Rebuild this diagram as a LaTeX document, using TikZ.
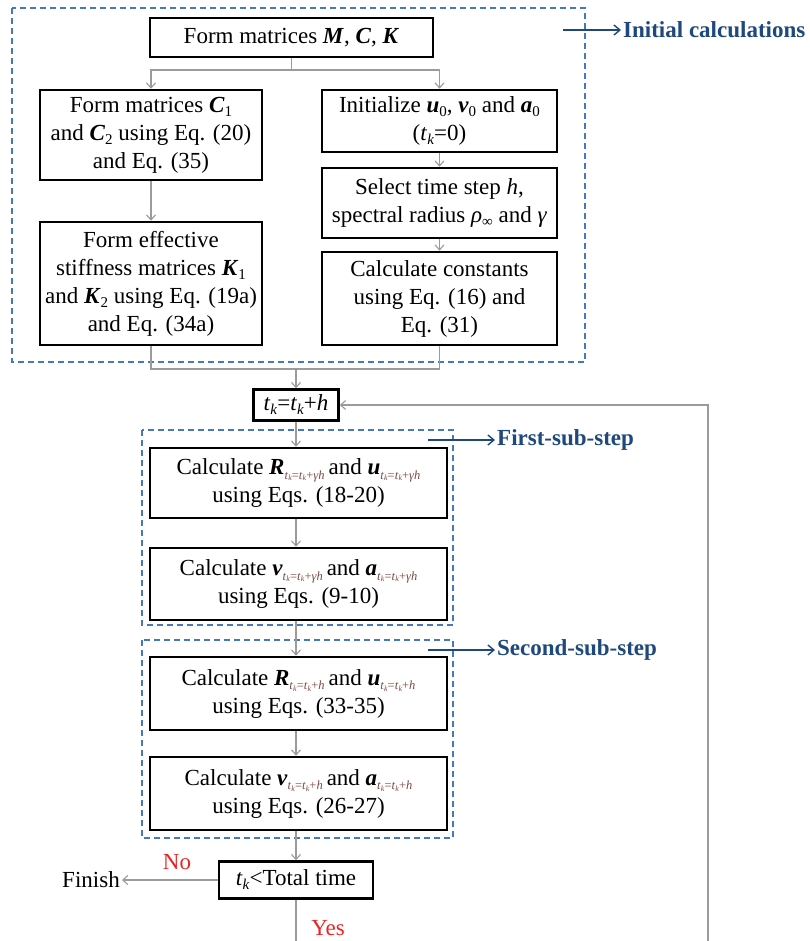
\documentclass[tikz,border=0pt]{standalone}
\usepackage{fontspec}
\setmainfont{Liberation Serif}
\usetikzlibrary{arrows.meta}
\definecolor{navy}{RGB}{31,73,125}
\definecolor{dashblue}{RGB}{70,120,190}
\definecolor{subbrown}{RGB}{125,75,65}
\definecolor{arrgray}{RGB}{155,155,155}
\definecolor{nored}{RGB}{235,35,35}
\newcommand\myBI[1]{\textbf{\textit{#1}}}
\newcommand\myLo[1]{\raisebox{-4pt}{\fontsize{15}{15}\selectfont #1}}
\newcommand\myTk{\textit{t}\myLo{\textit{k}}}
\newcommand\mySs[1]{\raisebox{-4.5pt}{\fontsize{12.5}{12.5}\selectfont\color{subbrown}#1}}
\newcommand\mySk{\textit{t}\raisebox{-1.5pt}{\fontsize{8}{8}\selectfont\textit{k}}}
\newcommand\myGh{\mySs{\mySk=\mySk+\textit{γh}}\hspace{4pt}}
\newcommand\myHh{\mySs{\mySk=\mySk+\textit{h}}\hspace{4pt}}
\begin{document}
\begin{tikzpicture}[x=1pt,y=-1pt,
  box/.style={draw, line width=2.6pt, align=center, inner sep=2pt,
    font=\fontsize{23}{28}\selectfont},
  gline/.style={draw=arrgray, line width=1.2pt},
  garrow/.style={gline, -{Straight Barb[length=5pt,width=9pt,line width=1.1pt]}},
  dbox/.style={draw=dashblue, line width=1.5pt, dash pattern=on 6pt off 4pt},
  narrow/.style={draw=navy, line width=1.5pt, -{Straight Barb[length=6pt,width=10pt,line width=1.4pt]}},
  lab/.style={text=navy, font=\fontsize{23}{28}\selectfont\bfseries, inner sep=2pt},
  plain/.style={font=\fontsize{23}{28}\selectfont, inner sep=2pt}]
\useasboundingbox (0,0) rectangle (809,941);
\fill[white] (0,0) rectangle (809,941);

% dashed group boxes
\draw[dbox] (12,8) rectangle (585,362);
\draw[dbox] (142,430) rectangle (453,625);
\draw[dbox] (142,640) rectangle (453,838);

% nodes
\node[box, minimum width=283pt, minimum height=39pt] (A) at (291.5,37.5) {Form matrices \myBI{M}, \myBI{C}, \myBI{K}};
\node[box, minimum width=222pt, minimum height=90pt] (B) at (151,135) {Form matrices \myBI{C}\myLo{1}\\and \myBI{C}\myLo{2} using Eq. (20)\\and Eq. (35)};
\node[box, minimum width=222pt, minimum height=123pt] (C) at (151,283.5) {Form effective\\stiffness matrices \myBI{K}\myLo{1}\\and \myBI{K}\myLo{2} using Eq. (19a)\\and Eq. (34a)};
\node[box, minimum width=235pt, minimum height=62pt] (D) at (439.5,121) {Initialize \myBI{u}\myLo{0}, \myBI{v}\myLo{0} and \myBI{a}\myLo{0}\\(\myTk=0)};
\node[box, minimum width=235pt, minimum height=70pt] (E) at (439.5,203) {Select time step \textit{h},\\spectral radius \textit{ρ}\myLo{∞} and \textit{γ}};
\node[box, minimum width=235pt, minimum height=93pt] (F) at (439.5,298.5) {Calculate constants\\using Eq. (16) and\\Eq. (31)};
\node[box, minimum width=85pt, minimum height=31pt] (tk) at (296,405) {\myTk=\myTk+\textit{h}};
\node[box, minimum width=297pt, minimum height=70pt] (G) at (298.5,483) {Calculate \myBI{R}\myGh and \myBI{u}\myGh\\using Eqs. (18-20)};
\node[box, minimum width=297pt, minimum height=72pt] (H) at (298.5,584) {Calculate \myBI{v}\myGh and \myBI{a}\myGh\\using Eqs. (9-10)};
\node[box, minimum width=297pt, minimum height=73pt] (I) at (298.5,693.5) {Calculate \myBI{R}\myHh and \myBI{u}\myHh\\using Eqs. (33-35)};
\node[box, minimum width=297pt, minimum height=73pt] (J) at (298.5,793.5) {Calculate \myBI{v}\myHh and \myBI{a}\myHh\\using Eqs. (26-27)};
\node[box, minimum width=154pt, minimum height=37pt] (dec) at (296,880) {\myTk<Total time};
\node[plain] (fin) at (91,880) {Finish};
\node[plain, text=nored] (no) at (177,862) {No};
\node[plain, text=nored] (yes) at (328,928) {Yes};

% side labels
\node[lab, anchor=west] (L1) at (621,30) {Initial calculations};
\node[lab, anchor=west] (L2) at (495,440) {First-sub-step};
\node[lab, anchor=west] (L3) at (495,650) {Second-sub-step};
\coordinate (L1s) at (563,30);
\coordinate (L2s) at (428,440);
\coordinate (L3s) at (428,650);
\draw[narrow] (L1s) -- (L1.west);
\draw[narrow] (L2s) -- (L2.west);
\draw[narrow] (L3s) -- (L3.west);

% connectors
\coordinate (split) at (291.5,70);
\draw[gline] (A.south) -- (split);
\draw[garrow] (split) -| (B.north);
\draw[garrow] (split) -| (D.north);
\draw[garrow] (B.south) -- (C.north);
\draw[garrow] (D.south) -- (E.north);
\draw[garrow] (E.south) -- (F.north);
\coordinate (merge) at (296,369);
\draw[gline] (C.south) |- (merge);
\draw[gline] (F.south) |- (merge);
\draw[garrow] (merge) -- (tk.north);
\draw[garrow] (tk.south) -- (tk.south |- G.north);
\draw[garrow] (G.south -| tk.south) -- (tk.south |- H.north);
\draw[garrow] (H.south -| tk.south) -- (tk.south |- I.north);
\draw[garrow] (I.south -| tk.south) -- (tk.south |- J.north);
\draw[garrow] (J.south -| tk.south) -- (dec.north);
\draw[garrow] (dec.west) -- (fin.east);
\coordinate (loop) at (708,990);
\draw[garrow] (dec.south) |- (loop) |- (tk.east);
\end{tikzpicture}
\end{document}
